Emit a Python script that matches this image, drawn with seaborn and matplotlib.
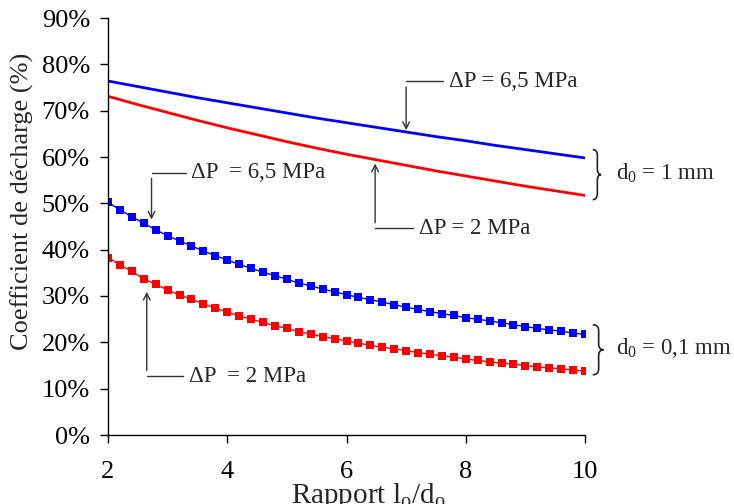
import numpy as np
import pandas as pd
import matplotlib
matplotlib.use("Agg")
import matplotlib.pyplot as plt
import seaborn as sns
from matplotlib.path import Path
from matplotlib.patches import PathPatch
from matplotlib.ticker import FuncFormatter

# ---- data ----
x_markers = [2.0, 2.2, 2.4, 2.6, 2.8, 3.0, 3.2, 3.4, 3.6, 3.8, 4.0, 4.2, 4.4, 4.6,
             4.8, 5.0, 5.2, 5.4, 5.6, 5.8, 6.0, 6.2, 6.4, 6.6, 6.8, 7.0, 7.2, 7.4,
             7.6, 7.8, 8.0, 8.2, 8.4, 8.6, 8.8, 9.0, 9.2, 9.4, 9.6, 9.8, 10.0]
blue_small = [50.2, 48.6, 47.1, 45.7, 44.3, 43.0, 41.9, 40.8, 39.7, 38.7, 37.8, 36.8,
              36.0, 35.1, 34.4, 33.6, 32.8, 32.2, 31.5, 30.9, 30.3, 29.7, 29.2, 28.7,
              28.1, 27.6, 27.1, 26.6, 26.2, 25.8, 25.3, 25.0, 24.6, 24.2, 23.8, 23.4,
              23.0, 22.7, 22.4, 22.0, 21.7]
red_small = [38.3, 36.7, 35.3, 33.7, 32.5, 31.3, 30.2, 29.3, 28.3, 27.4, 26.5, 25.7,
             25.0, 24.3, 23.6, 23.0, 22.3, 21.8, 21.2, 20.8, 20.3, 19.8, 19.4, 18.9,
             18.6, 18.2, 17.8, 17.4, 17.1, 16.8, 16.4, 16.1, 15.8, 15.5, 15.3, 15.0,
             14.7, 14.5, 14.3, 14.0, 13.8]

x_lines = [2.0, 2.5, 3.0, 3.5, 4.0, 4.5, 5.0, 5.5, 6.0, 6.5, 7.0, 7.5, 8.0, 8.5,
           9.0, 9.5, 10.0]
blue_big = [76.4, 75.2, 74.0, 72.8, 71.7, 70.6, 69.5, 68.4, 67.4, 66.4, 65.4, 64.4,
            63.5, 62.5, 61.6, 60.7, 59.8]
red_big = [73.1, 71.3, 69.6, 67.9, 66.3, 64.8, 63.3, 61.9, 60.6, 59.4, 58.2, 57.0,
           55.9, 54.8, 53.7, 52.7, 51.7]

x_ticks = [2, 4, 6, 8, 10]
y_ticks = [0, 10, 20, 30, 40, 50, 60, 70, 80, 90]

# ---- style ----
sns.set_theme(style="ticks")
plt.rcParams["font.family"] = ["Liberation Serif", "DejaVu Serif"]
plt.rcParams["mathtext.fontset"] = "custom"
plt.rcParams["mathtext.rm"] = "Liberation Serif"
plt.rcParams["mathtext.it"] = "Liberation Serif:italic"

FS_TICK = 19
FS_LAB = 19
FS_ANN = 16.5
fig = plt.figure(figsize=(7.34, 5.04), dpi=100)
ax = fig.add_axes([108 / 734, 69 / 504, 477 / 734, 417 / 504])

df_lines = pd.DataFrame({"x": x_lines, "blue": blue_big, "red": red_big})
df_mark = pd.DataFrame({"x": x_markers, "blue": blue_small, "red": red_small})

sns.lineplot(data=df_lines, x="x", y="blue", color="#0000FF", linewidth=2.0, ax=ax)
sns.lineplot(data=df_lines, x="x", y="red", color="#FF0000", linewidth=2.0, ax=ax)
sns.lineplot(data=df_mark, x="x", y="blue", color="#0000FF", linewidth=1.0,
             marker="s", markersize=6, markeredgewidth=0, ax=ax)
sns.lineplot(data=df_mark, x="x", y="red", color="#FF0000", linewidth=1.0,
             marker="s", markersize=6, markeredgewidth=0, ax=ax)

ax.set_xlim(2, 10)
ax.set_ylim(0, 90)
ax.set_xticks(x_ticks)
ax.set_yticks(y_ticks)
ax.yaxis.set_major_formatter(FuncFormatter(lambda v, p: f"{int(v)}%"))
sns.despine(ax=ax)
for s in ["left", "bottom"]:
    ax.spines[s].set_linewidth(1.0)
    ax.spines[s].set_color("black")
    ax.spines[s].set_clip_on(False)
ax.tick_params(axis="both", direction="out", length=6, width=1.0, colors="black",
               labelsize=FS_TICK)
ax.tick_params(axis="x", pad=13)
ax.tick_params(axis="y", pad=7)

ax.set_xlabel(r"Rapport l$_\mathrm{o}$/d$_\mathrm{o}$", fontsize=21)
ax.set_ylabel("Coefficient de décharge (%)", fontsize=FS_LAB)
ax.xaxis.set_label_coords(0.545, -0.11)
ax.yaxis.set_label_coords(-0.155, 0.56)

# ---- annotations ----
aprops = dict(arrowstyle="->", color="#333333", lw=1.0, shrinkA=4, shrinkB=0,
              mutation_scale=12)

def elbow(text, tip, corner, textpos):
    ax.annotate("", xy=tip, xytext=corner, arrowprops=aprops, annotation_clip=False)
    ax.plot([corner[0], textpos[0] - 0.1], [corner[1], corner[1]], color="#333333",
            lw=1.0, clip_on=False)
    ax.text(textpos[0], corner[1], text, fontsize=FS_ANN, va="center", ha="left")

elbow("ΔP = 6,5 MPa", (7.0, 65.8), (7.0, 76.3), (7.72, 76.0))
elbow("ΔP = 2 MPa", (6.48, 58.6), (6.48, 44.6), (7.22, 44.6))
elbow("ΔP  = 6,5 MPa", (2.73, 46.5), (2.73, 56.6), (3.40, 56.6))
elbow("ΔP  = 2 MPa", (2.65, 30.9), (2.65, 12.7), (3.36, 12.7))

# braces
def brace(x0, top, bot, w):
    xm = x0 + w * 0.55
    xt = x0 + w
    mid = (top + bot) / 2
    r = (top - bot) * 0.12
    verts = [(x0, top), (xm, top), (xm, top - r),
             (xm, mid + r), (xm, mid), (xt, mid),
             (xm, mid), (xm, mid - r),
             (xm, bot + r), (xm, bot), (x0, bot)]
    codes = [Path.MOVETO, Path.CURVE3, Path.CURVE3,
             Path.LINETO, Path.CURVE3, Path.CURVE3,
             Path.CURVE3, Path.CURVE3,
             Path.LINETO, Path.CURVE3, Path.CURVE3]
    ax.add_patch(PathPatch(Path(verts, codes), fill=False, lw=1.2, color="#222222",
                           clip_on=False))

brace(10.13, 61.6, 50.8, 0.14)
brace(10.13, 23.8, 13.0, 0.18)
ax.text(10.52, 56.4, r"d$_\mathrm{0}$ = 1 mm", fontsize=FS_ANN, va="center", ha="left")
ax.text(10.52, 18.8, r"d$_\mathrm{0}$ = 0,1 mm", fontsize=FS_ANN, va="center", ha="left")

fig.savefig("out.png", dpi=100)
